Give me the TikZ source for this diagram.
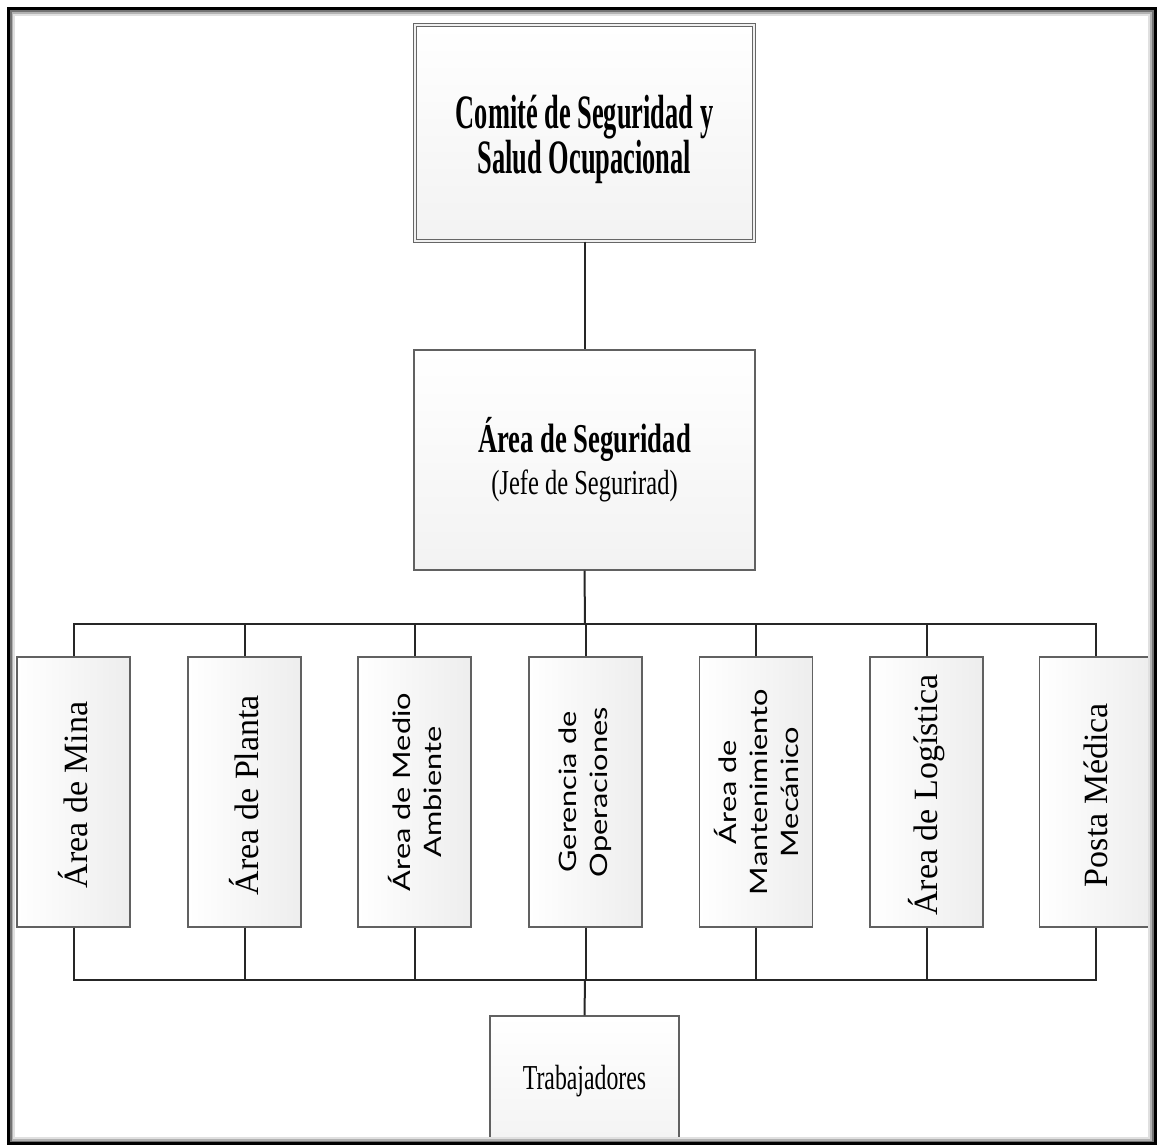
\documentclass[tikz,border=0pt]{standalone}
\usepackage{fontspec}
\usepackage{graphicx}
\setmainfont{Liberation Serif}
\newfontfamily\sansf{Lato}
\newcommand{\sxb}[2]{\scalebox{#1}[1]{#2}}
\begin{document}
\begin{tikzpicture}[x=1pt,y=-1pt,
  boxbase/.style={draw=black!62, line width=1.4pt, inner sep=0pt},
  hbox/.style={boxbase, top color=white, bottom color=black!5},
  vbox/.style={boxbase, left color=white, right color=black!7,
    minimum width=113pt, minimum height=270pt},
  conn/.style={draw=black!85, line width=2pt},
  vlabel/.style={rotate=90, align=center, inner sep=0pt},
  serifv/.style={vlabel, font=\fontsize{34}{36}\selectfont, xshift=-3pt},
  sansv/.style={vlabel, font=\sansf\fontsize{24}{31}\selectfont},
]
\useasboundingbox (0,0) rectangle (1157,1145);
\clip (0,0) rectangle (1157,1145);
\fill[white] (0,0) rectangle (1157,1145);

% top box
\node[hbox, double=black!6, double distance=2pt, line width=1pt, draw=black!60,
  minimum width=339pt, minimum height=216pt] (comite) at (584.5,133) {};
\node[align=center, inner sep=0pt,
  font=\fontsize{48}{42}\selectfont\bfseries] (comiteT) at (584.5,139)
  {\sxb{0.55}{Comité de Seguridad y}\\\sxb{0.55}{Salud Ocupacional}};

% second box
\node[hbox, minimum width=341pt, minimum height=220pt, align=center,
  font=\fontsize{38}{42}\selectfont] (seg) at (584.5,460)
  {{\fontsize{41}{42}\selectfont\bfseries\sxb{0.65}{Área de Seguridad}}\\
   {\fontsize{35}{42}\selectfont\sxb{0.7}{(Jefe de Segurirad)}}};

% vertical boxes
\foreach \i/\x in {1/73.5,2/244.5,3/414.5,4/585.5,5/756,6/926.5,7/1096}
  \node[vbox] (v\i) at (\x,792) {};

\node[serifv] (t1) at (v1) {Área de Mina};
\node[serifv] (t2) at (v2) {Área de Planta};
\node[sansv] (t3) at (v3) {\sxb{1.28}{Área de Medio}\\\sxb{1.28}{Ambiente}};
\node[sansv] (t4) at (v4) {\sxb{1.28}{Gerencia de}\\\sxb{1.28}{Operaciones}};
\node[sansv] (t5) at (v5) {\sxb{1.28}{Área de}\\\sxb{1.28}{Mantenimiento}\\\sxb{1.28}{Mecánico}};
\node[serifv] (t6) at (v6) {Área de Logística};
\node[serifv] (t7) at (v7) {Posta Médica};

% bottom box
\node[hbox, minimum width=189pt, minimum height=140pt] (trab) at (584.5,1086) {};
\node[inner sep=0pt, font=\fontsize{35}{40}\selectfont] (trabT) at (584.5,1081)
  {\sxb{0.68}{Trabajadores}};

% connectors
\coordinate (bt) at (585,624);
\coordinate (bb) at (585,980);
\draw[conn] (comite.south) -- (seg.north);
\draw[conn] (seg.south) -- (bt);
\foreach \i in {1,...,7} {
  \draw[conn] (v\i.north) |- (bt);
  \draw[conn] (v\i.south) |- (bb);
}
\draw[conn] (bb) -- (trab.north);

% outer frame with inner shadow
\draw[black!12, line width=2pt] (14,15) rectangle (1149,1138);
\draw[black!30, line width=2pt] (12,13) rectangle (1151,1140);
\draw[black!55, line width=2pt] (10.5,11.5) rectangle (1152.5,1141.5);
\draw[black, line width=3pt] (8,9) rectangle (1155,1143.5);
\end{tikzpicture}
\end{document}
